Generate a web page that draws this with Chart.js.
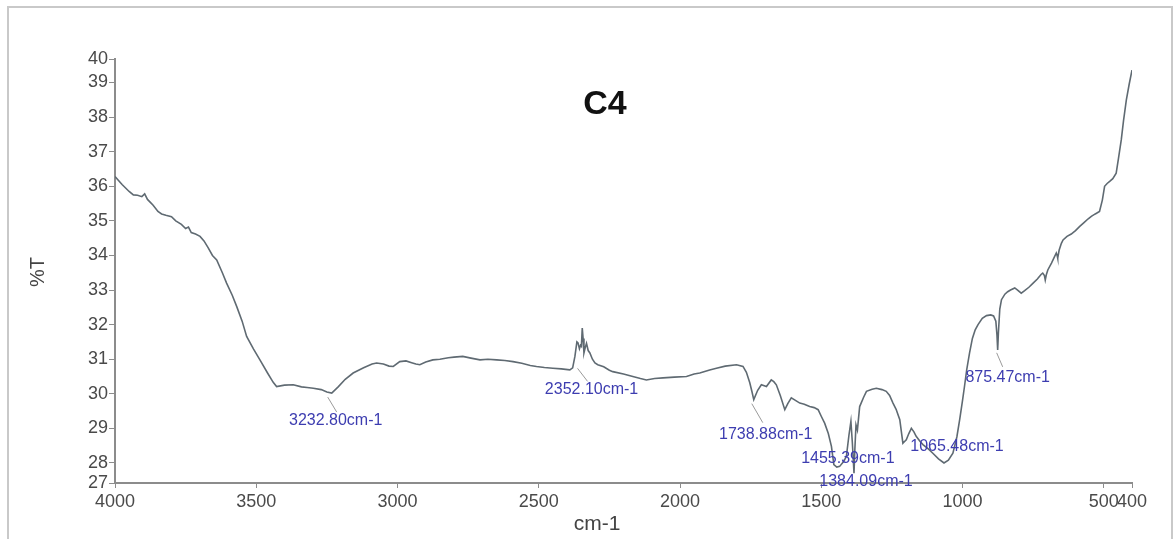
<!DOCTYPE html>
<html>
<head>
<meta charset="utf-8">
<script src="https://cdn.jsdelivr.net/npm/chart.js@4/dist/chart.umd.min.js"></script>
<style>
    body { margin: 0; background: #fff; }
    #wrap { position: relative; width: 1175px; height: 539px; overflow: hidden; }
    #frame {
        position: absolute; left: 7px; top: 6px; width: 1162px; height: 560px;
        border: 2px solid #c9c9c9; border-bottom: none;
    }
    #spectrum { position: absolute; left: 0; top: 0; }
</style>
</head>
<body>
<div id="wrap">
    <div id="frame"></div>
    <canvas id="spectrum" width="1175" height="539"></canvas>
</div>
<script>
// Спектр ИК (волновое число, %T)
const wavenumbers = [
    4000, 3975, 3950, 3935, 3920, 3905, 3895, 3885, 3865, 3848, 3835, 3820, 3800, 3785, 3765, 3750,
    3740, 3730, 3715, 3699, 3685, 3670, 3655, 3640, 3620, 3605, 3585, 3569, 3550, 3534, 3510, 3487,
    3460, 3440, 3428, 3400, 3369, 3340, 3320, 3298, 3270, 3250, 3232.80, 3210, 3185, 3157, 3120, 3090,
    3074, 3050, 3030, 3015, 2992, 2970, 2950, 2935, 2921, 2900, 2875, 2850, 2820, 2800, 2769, 2740,
    2708, 2680, 2649, 2620, 2591, 2560, 2530, 2508, 2480, 2450, 2420, 2390, 2380, 2372, 2365, 2361,
    2356, 2352.10, 2349, 2346, 2343, 2340, 2335, 2331, 2325, 2319, 2310, 2301, 2291, 2270, 2250, 2238,
    2200, 2167, 2140, 2119, 2090, 2060, 2020, 1977, 1950, 1930, 1895, 1871, 1840, 1800, 1777, 1765,
    1753, 1745, 1738.88, 1725, 1712, 1694, 1677, 1668, 1659, 1645, 1629, 1618, 1606, 1590, 1576, 1560,
    1541, 1525, 1511, 1500, 1488, 1475, 1464, 1455.39, 1445, 1435, 1420, 1411, 1402, 1395, 1390, 1386,
    1384.09, 1381, 1377, 1372, 1364, 1350, 1340, 1320, 1305, 1285, 1270, 1258, 1246, 1235, 1222, 1211,
    1205, 1199, 1190, 1181, 1172, 1164, 1150, 1140, 1120, 1105, 1085, 1065.48, 1050, 1034, 1020, 1010,
    1000, 993, 985, 975, 965, 955, 945, 930, 915, 900, 890, 882, 878, 875.47, 873, 868,
    862, 850, 840, 830, 815, 805, 792, 780, 765, 750, 735, 722, 716, 710, 707, 703,
    698, 685, 675, 668, 665, 663, 658, 650, 644, 630, 615, 600, 585, 570, 555, 544,
    530, 515, 505, 497, 488, 479, 468, 456, 448, 438, 430, 420, 410, 400
];
const transmittance = [
    36.28, 36.05, 35.85, 35.75, 35.74, 35.70, 35.78, 35.62, 35.45, 35.27, 35.20, 35.16, 35.12, 35.00, 34.90, 34.78,
    34.82, 34.66, 34.62, 34.55, 34.42, 34.22, 34.00, 33.87, 33.50, 33.20, 32.85, 32.52, 32.10, 31.66, 31.30, 30.98,
    30.60, 30.33, 30.21, 30.25, 30.26, 30.20, 30.18, 30.16, 30.12, 30.05, 30.02, 30.20, 30.42, 30.60, 30.75, 30.86,
    30.89, 30.86, 30.80, 30.79, 30.93, 30.95, 30.90, 30.86, 30.84, 30.92, 30.98, 31.00, 31.04, 31.06, 31.08, 31.03,
    30.98, 31.00, 30.98, 30.96, 30.93, 30.88, 30.82, 30.79, 30.76, 30.74, 30.72, 30.69, 30.75, 31.08, 31.50, 31.47,
    31.30, 31.40, 31.37, 31.90, 31.60, 31.18, 31.35, 31.46, 31.25, 31.18, 31.00, 30.89, 30.84, 30.78, 30.68, 30.64,
    30.57, 30.50, 30.44, 30.40, 30.44, 30.46, 30.48, 30.50, 30.57, 30.60, 30.69, 30.74, 30.80, 30.84, 30.79, 30.62,
    30.32, 30.05, 29.83, 30.10, 30.26, 30.21, 30.40, 30.35, 30.26, 29.95, 29.54, 29.72, 29.88, 29.80, 29.73, 29.70,
    29.63, 29.60, 29.54, 29.35, 29.15, 28.85, 28.48, 27.95, 27.88, 27.90, 28.05, 28.19, 28.80, 29.20, 28.60, 28.00,
    27.70, 28.40, 29.10, 28.95, 29.63, 29.90, 30.07, 30.13, 30.16, 30.12, 30.07, 29.95, 29.73, 29.55, 29.25, 28.57,
    28.62, 28.67, 28.85, 29.00, 28.90, 28.77, 28.62, 28.53, 28.40, 28.28, 28.12, 28.00, 28.08, 28.28, 28.75, 29.25,
    29.80, 30.21, 30.70, 31.18, 31.60, 31.85, 32.00, 32.18, 32.26, 32.28, 32.25, 32.10, 31.70, 31.27, 31.75, 32.45,
    32.72, 32.88, 32.95, 33.00, 33.06, 33.00, 32.91, 32.98, 33.08, 33.20, 33.32, 33.45, 33.49, 33.42, 33.29, 33.45,
    33.58, 33.78, 33.95, 34.07, 34.00, 33.92, 34.15, 34.35, 34.45, 34.55, 34.62, 34.72, 34.84, 34.95, 35.06, 35.13,
    35.20, 35.27, 35.60, 36.00, 36.08, 36.14, 36.22, 36.38, 36.80, 37.34, 37.90, 38.50, 38.95, 39.36
];

// Деления осей
const xTickValues = [400, 500, 1000, 1500, 2000, 2500, 3000, 3500, 4000];
const yTickValues = [28, 29, 30, 31, 32, 33, 34, 35, 36, 37, 38, 39];
const yRange = [27.42, 39.68];

// Подписанные пики
const peakWavenumbers = [3232.80, 2352.10, 1738.88, 1455.39, 1384.09, 1065.48, 875.47];

// Смещения подписей пиков относительно точки (пиксели) и выноски
const peakLabelLayout = [
    { dx: 4, dy: 28, lead: [-4, 4, 5, 19] },
    { dx: 11, dy: 44, lead: [-3, 23, 7, 36] },
    { dx: 12, dy: 35, lead: [-2, 4, 9, 23] },
    { dx: 14, dy: -6, lead: null },
    { dx: 12, dy: 8, lead: null },
    { dx: 13, dy: -16, lead: null },
    { dx: 10, dy: 28, lead: [-1, 3, 5, 17] }
];

const points = wavenumbers.map((w, i) => ({ x: w, y: transmittance[i] }));

// Надписи: заголовок, подписи осей и пиков
const labelsPlugin = {
    id: 'spectrumLabels',
    afterDraw(chart) {
        const ctx = chart.ctx;
        const xs = chart.scales.x;
        const ys = chart.scales.y;
        ctx.save();
        ctx.textAlign = 'center';
        ctx.textBaseline = 'middle';

        ctx.fillStyle = '#111';
        ctx.font = 'bold 34px "Liberation Sans", Arial, sans-serif';
        ctx.fillText('C4', 605, 105);

        ctx.fillStyle = '#444';
        ctx.font = '21px "Liberation Sans", Arial, sans-serif';
        ctx.fillText('cm-1', 597, 524);

        ctx.save();
        ctx.translate(38, 272);
        ctx.rotate(-Math.PI / 2);
        ctx.font = '20px "Liberation Sans", Arial, sans-serif';
        ctx.fillText('%T', 0, 0);
        ctx.restore();

        ctx.font = '16px "Liberation Sans", Arial, sans-serif';
        peakWavenumbers.forEach((w, i) => {
            const idx = wavenumbers.indexOf(w);
            const px = xs.getPixelForValue(w);
            const py = ys.getPixelForValue(transmittance[idx]);
            const lay = peakLabelLayout[i];
            if (lay.lead) {
                ctx.strokeStyle = '#9a9a9a';
                ctx.lineWidth = 1;
                ctx.beginPath();
                ctx.moveTo(px + lay.lead[0], py + lay.lead[1]);
                ctx.lineTo(px + lay.lead[2], py + lay.lead[3]);
                ctx.stroke();
            }
            ctx.fillStyle = '#3d3db0';
            ctx.fillText(w.toFixed(2) + 'cm-1', px + lay.dx, py + lay.dy);
        });
        ctx.restore();
    }
};

const tickFont = { family: '"Liberation Sans", Arial, sans-serif', size: 18 };

new Chart(document.getElementById('spectrum').getContext('2d'), {
    type: 'line',
    data: {
        datasets: [{
            data: points,
            borderColor: '#5f6a72',
            borderWidth: 1.6,
            pointRadius: 0,
            tension: 0,
            fill: false
        }]
    },
    options: {
        responsive: false,
        animation: false,
        layout: { padding: { left: 0, top: 59, right: 43, bottom: 0 } },
        plugins: {
            legend: { display: false },
            tooltip: { enabled: false }
        },
        scales: {
            x: {
                type: 'linear',
                reverse: true,
                min: 400,
                max: 4000,
                afterBuildTicks: (scale) => {
                    scale.ticks = xTickValues.map(v => ({ value: v }));
                },
                afterFit: (scale) => { scale.height = 56; },
                border: { display: true, color: '#8c8c8c', width: 2 },
                grid: { drawOnChartArea: false, tickLength: 5, color: '#8c8c8c' },
                ticks: {
                    autoSkip: false,
                    maxRotation: 0,
                    padding: 3,
                    color: '#4a4a4a',
                    font: tickFont,
                    callback: (v) => String(Math.round(v))
                }
            },
            y: {
                type: 'linear',
                min: yRange[0],
                max: yRange[1],
                afterBuildTicks: (scale) => {
                    scale.ticks = [yRange[0], ...yTickValues, yRange[1]].map(v => ({ value: v }));
                },
                afterFit: (scale) => { scale.width = 115; },
                border: { display: true, color: '#8c8c8c', width: 2 },
                grid: { drawOnChartArea: false, tickLength: 6, color: '#8c8c8c' },
                ticks: {
                    autoSkip: false,
                    padding: 1,
                    color: '#4a4a4a',
                    font: tickFont,
                    callback: (v) => String(Math.round(v))
                }
            }
        }
    },
    plugins: [labelsPlugin]
});
</script>
</body>
</html>
